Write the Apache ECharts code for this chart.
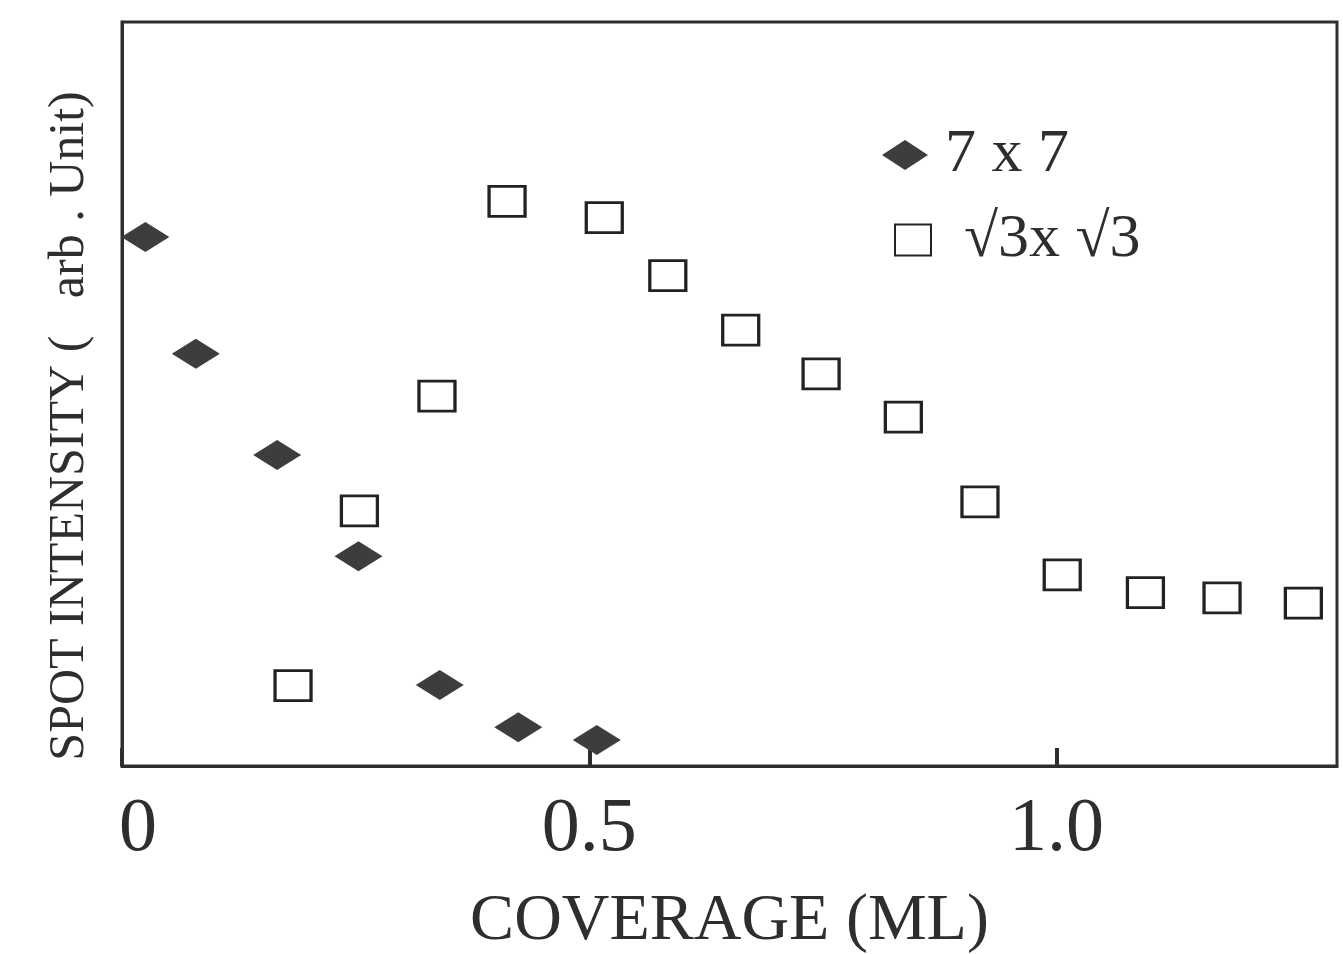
<!DOCTYPE html>
<html>
<head>
<meta charset="utf-8">
<script src="https://cdn.jsdelivr.net/npm/echarts@6/dist/echarts.min.js"></script>
<style>
html,body{margin:0;padding:0;background:#fff;}
#chart{width:1343px;height:954px;}
</style>
</head>
<body>
<div id="chart"></div>
<script>
// Data
const seriesNames = ['7 x 7', '√3x √3'];
const x7x7 = [0.025, 0.079, 0.166, 0.253, 0.340, 0.424, 0.508];
const y7x7 = [71.1, 55.4, 41.8, 28.2, 10.9, 5.2, 3.5];
const xSqrt3 = [0.183, 0.254, 0.337, 0.412, 0.516, 0.584, 0.662, 0.748, 0.836, 0.918, 1.006, 1.095, 1.177, 1.264];
const ySqrt3 = [10.8, 34.3, 49.7, 75.9, 73.7, 65.9, 58.6, 52.7, 46.9, 35.5, 25.7, 23.3, 22.6, 21.9];
const xTickLabels = {0: '0', 0.5: '0.5', 1: '1.0'};
const xAxisTitle = 'COVERAGE (ML)';
const yAxisTitle = 'SPOT INTENSITY (   arb . Unit)';

const pairs = (xs, ys) => xs.map((x, i) => [x, ys[i]]);
const serif = "'Liberation Serif', 'DejaVu Serif', serif";
const ink = '#2e2e2e';

const chart = echarts.init(document.getElementById('chart'));
chart.setOption({
  backgroundColor: '#fff',
  animation: false,
  grid: {
    left: 122, right: 6, top: 22, bottom: 188,
    containLabel: false, outerBoundsMode: 'none',
    show: true, borderColor: ink, borderWidth: 3, backgroundColor: 'transparent'
  },
  legend: [
    {
      data: [seriesNames[0]],
      left: 877, top: 119,
      itemWidth: 46, itemHeight: 30,
      textStyle: {fontFamily: serif, fontSize: 62, color: ink, padding: [0, 0, 0, 12]},
      selectedMode: false
    },
    {
      data: [seriesNames[1]],
      left: 889, top: 204,
      itemWidth: 36, itemHeight: 31,
      textStyle: {fontFamily: serif, fontSize: 62, color: ink, padding: [0, 0, 0, 28]},
      selectedMode: false
    }
  ],
  xAxis: {
    type: 'value', min: 0, max: 1.3, interval: 0.5,
    name: xAxisTitle, nameLocation: 'middle', nameGap: 123,
    nameTextStyle: {fontFamily: serif, fontSize: 66, color: ink},
    axisLine: {show: true, lineStyle: {color: ink, width: 3}},
    axisTick: {show: true, inside: true, length: 18, lineStyle: {color: ink, width: 4}},
    axisLabel: {
      show: true, margin: 26, fontFamily: serif, fontSize: 76, color: ink,
      showMaxLabel: false,
      formatter: v => (v === 0 ? '{z|0}' : (xTickLabels[v] !== undefined ? xTickLabels[v] : '')),
      rich: {z: {fontFamily: serif, fontSize: 76, color: ink, padding: [0, 0, 0, 32]}}
    },
    splitLine: {show: false}
  },
  yAxis: {
    type: 'value', min: 0, max: 100,
    name: yAxisTitle, nameLocation: 'middle', nameGap: 27, nameRotate: 90,
    nameTextStyle: {fontFamily: serif, fontSize: 50, color: ink, padding: [0, 64, 0, 0]},
    axisLine: {show: true, lineStyle: {color: ink, width: 3}},
    axisTick: {show: false},
    axisLabel: {show: false},
    splitLine: {show: false}
  },
  series: [
    {
      name: seriesNames[0], type: 'scatter',
      symbol: 'diamond', symbolSize: [48, 30],
      itemStyle: {color: '#3d3d3d', opacity: 1},
      data: pairs(x7x7, y7x7)
    },
    {
      name: seriesNames[1], type: 'scatter',
      symbol: 'rect', symbolSize: [36, 30],
      itemStyle: {color: '#ffffff', borderColor: '#222', borderWidth: 3, opacity: 1},
      data: pairs(xSqrt3, ySqrt3)
    }
  ]
});
</script>
</body>
</html>
